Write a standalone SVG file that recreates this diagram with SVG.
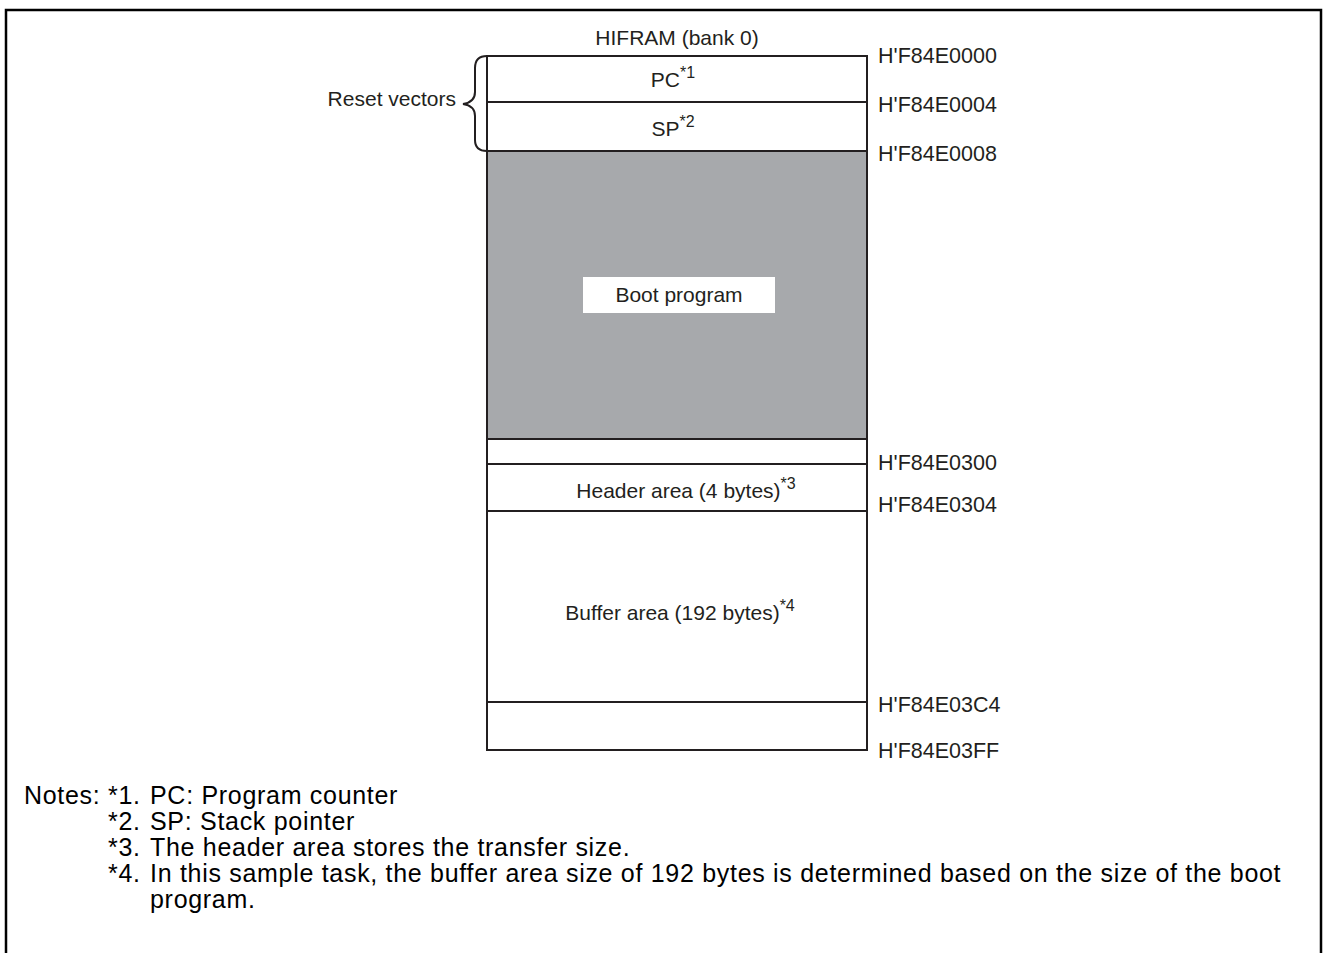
<svg xmlns="http://www.w3.org/2000/svg" width="1323" height="953" viewBox="0 0 1323 953">
  <style>
    text { font-family: "Liberation Sans", Arial, sans-serif; fill: #231f20; }
    .lbl { font-size: 21px; }
    .addr { font-size: 21.5px; }
    .note { font-size: 25px; letter-spacing: 0.7px; fill: #000000; }
    .sup { font-size: 16px; }
    .cell { fill: #ffffff; stroke: #231f20; stroke-width: 2; }
    .div { stroke: #231f20; stroke-width: 2; fill: none; }
  </style>

  <!-- outer frame -->
  <rect x="0" y="0" width="1323" height="953" fill="#ffffff"/>
  <path d="M6,960 V10 H1321 V960" fill="none" stroke="#000000" stroke-width="2.5"/>

  <!-- memory map -->
  <g id="memory-map">
    <text class="lbl" x="677" y="45" text-anchor="middle">HIFRAM (bank 0)</text>
    <rect class="cell" x="487" y="56" width="380" height="694"/>
  </g>

  <g id="pc">
    <line class="div" x1="487" y1="102" x2="867" y2="102"/>
    <text class="lbl" x="673" y="87" text-anchor="middle">PC<tspan class="sup" dy="-9">*1</tspan></text>
  </g>

  <g id="sp">
    <text class="lbl" x="673" y="136" text-anchor="middle">SP<tspan class="sup" dy="-9">*2</tspan></text>
  </g>

  <g id="boot-program">
    <rect x="487" y="151" width="380" height="288" fill="#a7a9ac" stroke="#231f20" stroke-width="2"/>
    <rect x="583" y="277" width="192" height="36" fill="#ffffff"/>
    <text class="lbl" x="679" y="302" text-anchor="middle">Boot program</text>
  </g>

  <g id="gap">
    <line class="div" x1="487" y1="464" x2="867" y2="464"/>
  </g>

  <g id="header-area">
    <line class="div" x1="487" y1="511" x2="867" y2="511"/>
    <text class="lbl" x="686" y="498" text-anchor="middle">Header area (4 bytes)<tspan class="sup" dy="-9">*3</tspan></text>
  </g>

  <g id="buffer-area">
    <line class="div" x1="487" y1="702" x2="867" y2="702"/>
    <text class="lbl" x="680" y="620" text-anchor="middle">Buffer area (192 bytes)<tspan class="sup" dy="-9">*4</tspan></text>
  </g>

  <!-- reset vector brace -->
  <g id="reset-vectors">
    <path class="div" stroke-width="1.5" d="M487,56 C479,56 475,60 475,68 L475,92 C475,99 470,103 463,104 C470,105 475,109 475,116 L475,140 C475,147 479,151 487,151"/>
    <text class="lbl" x="456" y="106" text-anchor="end">Reset vectors</text>
  </g>

  <!-- address labels -->
  <g id="addresses">
    <text class="addr" x="878" y="63">H'F84E0000</text>
    <text class="addr" x="878" y="112">H'F84E0004</text>
    <text class="addr" x="878" y="161">H'F84E0008</text>
    <text class="addr" x="878" y="470">H'F84E0300</text>
    <text class="addr" x="878" y="512">H'F84E0304</text>
    <text class="addr" x="878" y="712">H'F84E03C4</text>
    <text class="addr" x="878" y="758">H'F84E03FF</text>
  </g>

  <!-- notes -->
  <g id="notes">
    <text class="note" y="804"><tspan x="24">Notes:</tspan><tspan x="108">*1.</tspan><tspan x="150">PC: Program counter</tspan></text>
    <text class="note" y="830"><tspan x="108">*2.</tspan><tspan x="150">SP: Stack pointer</tspan></text>
    <text class="note" y="856"><tspan x="108">*3.</tspan><tspan x="150">The header area stores the transfer size.</tspan></text>
    <text class="note" y="882"><tspan x="108">*4.</tspan><tspan x="150">In this sample task, the buffer area size of 192 bytes is determined based on the size of the boot</tspan></text>
    <text class="note" y="908"><tspan x="150">program.</tspan></text>
  </g>
</svg>
